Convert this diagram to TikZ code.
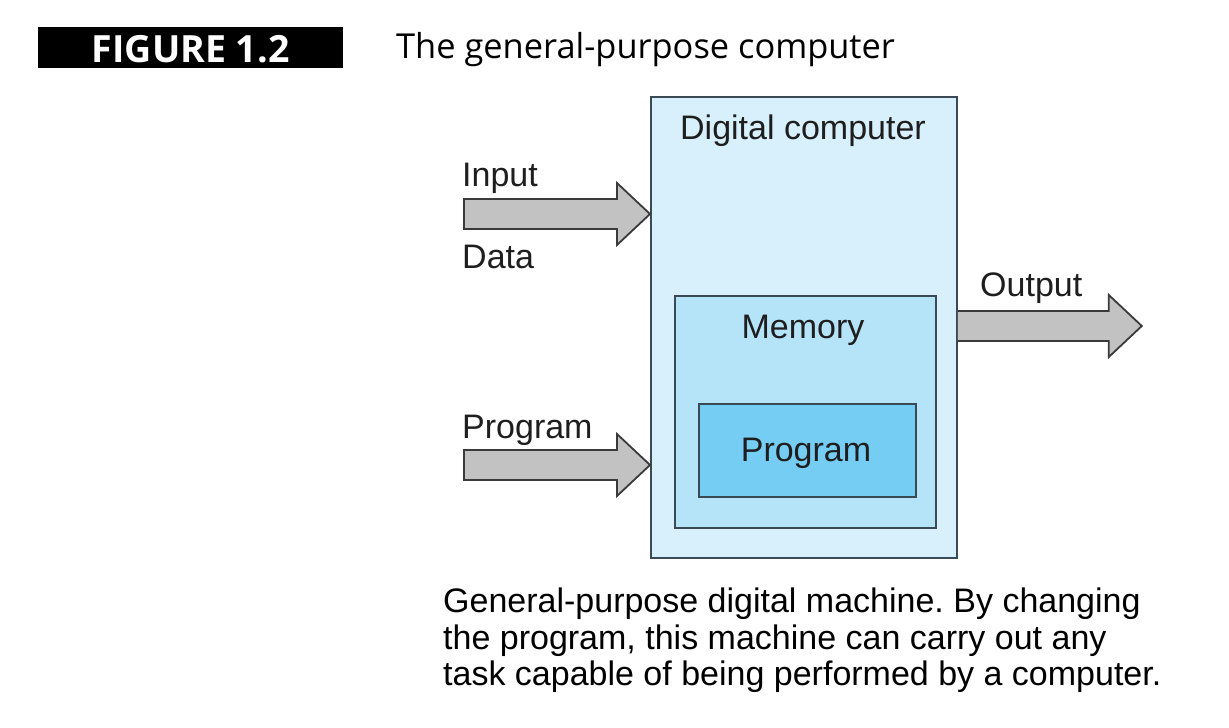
\documentclass[tikz,border=0pt]{standalone}
\usepackage{fontspec}
\setmainfont{Liberation Sans}
\newfontfamily\titlefont{Open Sans}
\usetikzlibrary{calc}
\definecolor{outerfill}{HTML}{D8F0FB}
\definecolor{memfill}{HTML}{B5E3F8}
\definecolor{progfill}{HTML}{76CDF4}
\definecolor{boxline}{HTML}{3A4A55}
\definecolor{arrfill}{HTML}{C2C2C2}
\definecolor{arrline}{HTML}{3A3A3A}
\definecolor{txt}{HTML}{1E1E1E}
\tikzset{
  box/.style={draw=boxline, line width=1.8pt, anchor=north west, inner sep=0pt},
  lbl/.style={font=\fontsize{34}{40}\selectfont, text=txt, inner sep=0pt},
  fatarrow/.style={fill=arrfill, draw=arrline, line width=1.8pt, line join=miter},
}
\frenchspacing
\begin{document}
\begin{tikzpicture}[x=1pt,y=-1pt]
\useasboundingbox (0,0) rectangle (1229,728);
% header
\node[fill=black, anchor=north west, minimum width=305pt, minimum height=41pt, inner sep=0pt] (fig) at (38,27) {};
\node[text=white, font=\titlefont\bfseries\fontsize{37.5}{40}\selectfont, inner sep=0pt] (figlbl) at ($(fig.center)+(0,1)$) {FIGURE 1.2};
\node[anchor=base west, font=\titlefont\fontsize{34.4}{40}\selectfont, inner sep=0pt] (title) at (396,58) {The general-purpose computer};
% boxes
\node[box, fill=outerfill, minimum width=306pt, minimum height=461pt] (comp) at (650,96) {};
\node[lbl, anchor=base] (complbl) at (803,139) {Digital computer};
\node[box, fill=memfill, minimum width=261pt, minimum height=232pt] (mem) at (674,295) {};
\node[lbl, anchor=base] (memlbl) at (803,338) {Memory};
\node[box, fill=progfill, minimum width=217pt, minimum height=93pt] (prog) at (698,403) {};
\node[lbl, anchor=base] (proglbl) at (806,461) {Program};
% input arrow
\coordinate (intip) at (comp.west |- 0,214);
\draw[fatarrow] ($(intip)+(-186,-15)$) -- ($(intip)+(-33,-15)$) -- ($(intip)+(-33,-31)$) -- (intip)
  -- ($(intip)+(-33,31)$) -- ($(intip)+(-33,15)$) -- ($(intip)+(-186,15)$) -- cycle;
\node[lbl, anchor=base west] (inlbl) at (462,186) {Input};
\node[lbl, anchor=base west] (datalbl) at (462,268) {Data};
% program arrow
\coordinate (ptip) at (comp.west |- 0,465);
\draw[fatarrow] ($(ptip)+(-186,-15)$) -- ($(ptip)+(-33,-15)$) -- ($(ptip)+(-33,-31)$) -- (ptip)
  -- ($(ptip)+(-33,31)$) -- ($(ptip)+(-33,15)$) -- ($(ptip)+(-186,15)$) -- cycle;
\node[lbl, anchor=base west] (plbl) at (462,438) {Program};
% output arrow
\coordinate (obase) at (comp.east |- 0,326);
\draw[fatarrow] ($(obase)+(0,-15)$) -- ($(obase)+(151,-15)$) -- ($(obase)+(151,-31)$) -- ($(obase)+(184,0)$)
  -- ($(obase)+(151,31)$) -- ($(obase)+(151,15)$) -- ($(obase)+(0,15)$);
\node[lbl, anchor=base west] (olbl) at (980,296) {Output};
% caption
\node[lbl, anchor=north west, align=left, font=\fontsize{34}{36.5}\selectfont, text=black] (cap) at (443,588)
 {General-purpose digital machine. By changing\\the program, this machine can carry out any\\task capable of being performed by a computer.};
\end{tikzpicture}
\end{document}
